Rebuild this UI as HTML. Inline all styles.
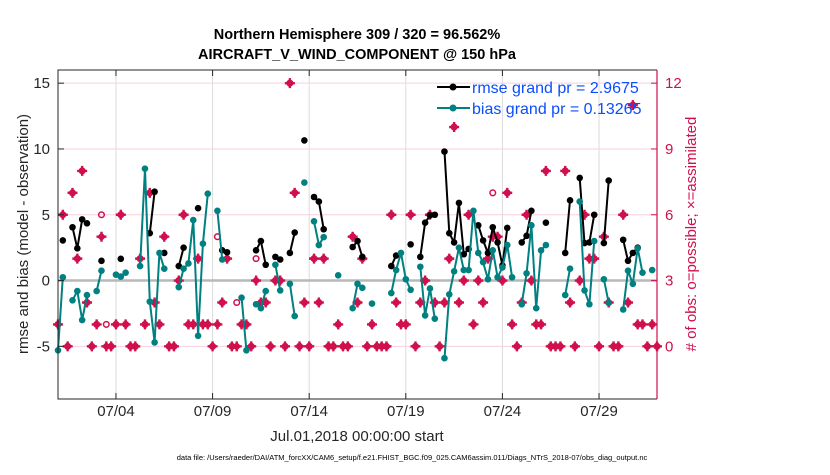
<!DOCTYPE html>
<html><head><meta charset="utf-8"><style>
body{margin:0;background:#fff;width:830px;height:470px;overflow:hidden;font-family:"Liberation Sans",Arial,sans-serif}
svg text{font-family:"Liberation Sans",Arial,sans-serif}
</style></head><body>
<svg id="chart" width="830" height="470" xmlns="http://www.w3.org/2000/svg">
<text x="357" y="39" font-size="14.5" font-weight="bold" text-anchor="middle" fill="#000">Northern Hemisphere 309 / 320 = 96.562%</text>
<text x="357" y="59" font-size="14.5" font-weight="bold" text-anchor="middle" fill="#000">AIRCRAFT_V_WIND_COMPONENT @ 150 hPa</text>
<g id="grid"></g>
<g id="marks"></g>
<g id="axes"></g>
<text transform="translate(28,234) rotate(-90)" font-size="15" text-anchor="middle" fill="#262626">rmse and bias (model - observation)</text>
<text transform="translate(696,234) rotate(-90)" font-size="15" text-anchor="middle" fill="#d0104c"># of obs: o=possible; ×=assimilated</text>
<text x="357" y="441" font-size="15" text-anchor="middle" fill="#262626">Jul.01,2018 00:00:00 start</text>
<text x="412" y="460" font-size="7.5" text-anchor="middle" fill="#000">data file: /Users/raeder/DAI/ATM_forcXX/CAM6_setup/f.e21.FHIST_BGC.f09_025.CAM6assim.011/Diags_NTrS_2018-07/obs_diag_output.nc</text>
<g id="legend">
<line x1="437" y1="87" x2="470" y2="87" stroke="#000" stroke-width="2"/><circle cx="453" cy="87" r="3.5" fill="#000"/>
<text x="472" y="93" font-size="16" fill="#0a4dff">rmse grand pr = 2.9675</text>
<line x1="437" y1="108" x2="470" y2="108" stroke="#008080" stroke-width="2"/><circle cx="453" cy="108" r="3.5" fill="#008080"/>
<text x="472" y="114" font-size="16" fill="#0a4dff">bias grand pr = 0.13265</text>
</g>
</svg>
<script>
const N=125;
const rmsePts={1:3.05,3:4.05,4:2.45,5:4.65,6:4.35,9:1.5,13:1.65,19:3.6,20:6.75,22:2.1,25:1.1,26:2.5,29:5.5,34:2.3,35:2.15,41:2.3,42:3.0,43:1.2,45:1.8,46:1.6,48:2.1,49:3.65,51:10.65,53:6.35,54:6.0,55:3.9,61:2.55,62:3.0,63:1.8,69:1.1,70:1.9,73:2.75,75:1.8,76:4.4,77:4.95,78:5.0,80:9.8,81:3.6,82:2.9,83:5.9,84:2.0,85:2.4,87:4.2,88:3.05,89:2.1,90:4.05,91:2.9,92:1.15,93:4.0,96:2.9,97:3.4,98:5.3,101:4.4,105:2.1,106:6.1,108:7.8,109:2.85,110:2.9,111:5.0,113:2.85,114:7.6,117:3.1,118:1.5,119:2.1,120:2.5};
const biasPts={0:-5.3,1:0.25,3:-1.5,4:-0.8,5:-3.0,6:-1.1,8:-0.8,9:0.75,12:0.45,13:0.3,14:0.6,17:1.1,18:8.5,19:-1.6,20:-4.7,21:2.1,22:0.9,25:-0.5,26:0.9,27:1.3,28:4.6,29:-4.2,30:2.8,31:6.6,33:5.3,34:1.6,38:-1.3,39:-5.3,41:-1.8,42:-2.1,43:-0.8,45:1.2,46:-0.75,48:-0.25,49:-2.7,51:7.45,53:4.5,54:2.7,55:3.3,58:0.4,61:-2.1,62:-0.25,63:-0.55,65:-1.75,69:-0.95,70:0.8,71:2.1,72:0.1,73:-0.7,75:1.05,76:-2.65,77:-0.6,78:-2.9,80:-5.9,81:-1.05,82:0.7,83:2.5,84:0.8,85:0.8,86:5.3,87:2.1,88:1.4,89:0.1,90:2.3,91:0.25,92:1.0,93:2.7,94:0.25,96:-1.8,97:0.55,98:4.2,99:-2.1,100:2.3,101:2.7,105:-1.1,106:0.9,108:6.0,109:-0.75,110:-1.8,111:3.0,113:0.1,114:-1.7,117:-2.2,118:0.75,119:-0.25,120:2.45,121:0.6,123:0.8};
const assimilated=[1,6,0,7,4,8,2,0,1,5,0,0,1,6,1,0,0,4,1,7,2,1,5,0,0,3,6,1,1,4,1,1,0,1,2,4,0,0,1,1,0,3,2,2,0,3,3,0,12,7,0,2,0,4,2,4,0,0,1,0,0,5,2,4,0,1,0,0,0,6,2,1,1,6,0,2,3,6,2,0,2,4,10,2,3,6,1,3,2,4,5,5,3,7,1,0,2,6,3,1,1,8,0,0,0,8,2,0,3,6,4,4,0,5,2,0,0,6,2,11,1,1,0,1,0];
const possibleExtra={9:6,10:1,33:5,37:2,41:4,90:7};
const leftTicks=[-5,0,5,10,15];
const rightTicks=[0,3,6,9,12];
const dateTicks=[3,8,13,18,23,28];
const dateLabels=["07/04","07/09","07/14","07/19","07/24","07/29"];
const rmse=[],bias=[],possible=[];
for(let i=0;i<N;i++){rmse.push(rmsePts[i]!==undefined?rmsePts[i]:null);bias.push(biasPts[i]!==undefined?biasPts[i]:null);possible.push(possibleExtra[i]!==undefined?possibleExtra[i]:assimilated[i]);}
const L=58,R=657,T=70,B=399;
const xDay=d=>L+d*(R-L)/31;
const xI=i=>xDay(i/4);
const yL=v=>T+(16-v)*(B-T)/25;
const yR=r=>yL((r-3)/0.6);
const NS="http://www.w3.org/2000/svg";
function mk(tag,attrs,parent){const e=document.createElementNS(NS,tag);for(const k in attrs)e.setAttribute(k,attrs[k]);parent.appendChild(e);return e;}
const grid=document.getElementById('grid'),marks=document.getElementById('marks'),axes=document.getElementById('axes');
dateTicks.forEach((d,k)=>{const g=mk('line',{x1:xDay(d),x2:xDay(d),y1:T,y2:B,stroke:'#dcdcdc','stroke-width':1},grid);


const t=mk('text',{x:xDay(d),y:416,'font-size':15,'text-anchor':'middle',fill:'#262626'},axes);t.textContent=dateLabels[k];


mk('line',{x1:xDay(d),x2:xDay(d),y1:B,y2:B-6,stroke:'#262626'},axes);mk('line',{x1:xDay(d),x2:xDay(d),y1:T,y2:T+6,stroke:'#262626'},axes);});
rightTicks.forEach(r=>{const g=mk('line',{x1:L,x2:R,y1:yR(r),y2:yR(r),stroke:'#f7cfe0','stroke-width':1},grid);


const t=mk('text',{x:R+8,y:yR(r)+5,'font-size':15,fill:'#d0104c'},axes);t.textContent=r;


mk('line',{x1:R,x2:R-6,y1:yR(r),y2:yR(r),stroke:'#d0104c'},axes);});
leftTicks.forEach(v=>{const t=mk('text',{x:L-8,y:yL(v)+5,'font-size':15,'text-anchor':'end',fill:'#262626'},axes);t.textContent=v;


mk('line',{x1:L,x2:L+6,y1:yL(v),y2:yL(v),stroke:'#262626'},axes);});
const zl=mk('line',{x1:L,x2:R,y1:yL(0),y2:yL(0),stroke:'#b8b8b8','stroke-width':2.5},grid);


// obs markers
possible.forEach((p,i)=>{if(p===null)return;const c=mk('circle',{cx:xI(i),cy:yR(p),r:2.8,fill:'none',stroke:'#d0104c','stroke-width':1.5},marks);

});
assimilated.forEach((a,i)=>{const x=xI(i),y=yR(a);const s=mk('path',{d:`M${x-4.5},${y}L${x},${y-4.5}L${x+4.5},${y}L${x},${y+4.5}Z M${x-5},${y-1.2}h10v2.4h-10Z M${x-1.2},${y-5}h2.4v10h-2.4Z`,fill:'#d0104c'},marks);

});
function series(arr,color,name){let d='';let prev=false;arr.forEach((v,i)=>{if(v===null){prev=false;return;}d+=(prev?'L':'M')+xI(i).toFixed(1)+','+yL(v).toFixed(1);prev=true;});
const p=mk('path',{d:d,fill:'none',stroke:color,'stroke-width':2},marks);


arr.forEach((v,i)=>{if(v===null)return;const c=mk('circle',{cx:xI(i),cy:yL(v),r:3.3,fill:color},marks);

});}
series(rmse,'#000','rmse');
series(bias,'#008080','bias');
mk('path',{d:`M${R},${T}H${L}V${B}H${R}`,fill:'none',stroke:'#262626','stroke-width':1},axes);
mk('line',{x1:R,x2:R,y1:T,y2:B,stroke:'#d0104c','stroke-width':1.2},axes);
</script>
</body></html>
